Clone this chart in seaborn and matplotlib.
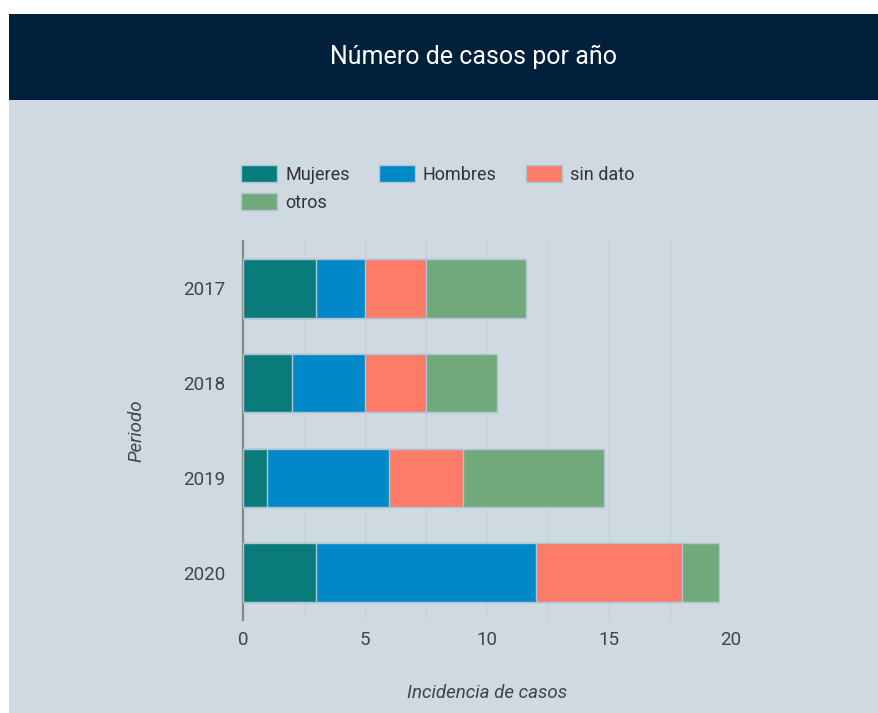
import numpy as np
import pandas as pd
import matplotlib.pyplot as plt
import seaborn as sns
from matplotlib.patches import Patch, Rectangle
from matplotlib.ticker import MultipleLocator

years = ['2017', '2018', '2019', '2020']
mujeres = [3, 2, 1, 3]
hombres = [2, 3, 5, 9]
sin_dato = [2.5, 2.5, 3, 6]
otros = [4.1, 2.9, 5.8, 1.5]

series = ['Mujeres', 'Hombres', 'sin dato', 'otros']
colors = ['#0a7b7b', '#0088c8', '#fc7b69', '#72aa7c']

df = pd.DataFrame({'year': years, 'Mujeres': mujeres, 'Hombres': hombres,
                   'sin dato': sin_dato, 'otros': otros})
# cumulative sums so the bars can be layered on top of each other
cum = df[series].cumsum(axis=1)
cum['year'] = df['year']

sns.set_theme(style='white')
plt.rcParams['font.family'] = ['Roboto', 'DejaVu Sans']

bg = '#cfd9e1'
fig = plt.figure(figsize=(8.79, 7.13), dpi=100)
fig.patch.set_facecolor('white')
fig.patches.append(Rectangle((9 / 879, 0), 1, 1 - 100 / 713, transform=fig.transFigure,
                             facecolor=bg, edgecolor='none', zorder=-10))
fig.patches.append(Rectangle((9 / 879, 1 - 100 / 713), 1, 86 / 713, transform=fig.transFigure,
                             facecolor='#00203c', edgecolor='none', zorder=-10))
fig.text(474 / 879, 1 - 57 / 713, 'Número de casos por año', color='white',
         fontsize=18, ha='center', va='center')

ax = fig.add_axes([243 / 879, 93 / 713, 488 / 879, 379 / 713])
ax.set_facecolor(bg)

# draw longest (total) first, then shorter cumulative bars on top
for s, c in reversed(list(zip(series, colors))):
    sns.barplot(data=cum, x=s, y='year', order=years, color=c, orient='h',
                width=0.62, saturation=1, edgecolor='#aec6d3', linewidth=1,
                ax=ax, zorder=3)

ax.set_xlim(0, 20)
ax.set_ylim(3.5, -0.5)
ax.xaxis.set_major_locator(MultipleLocator(5))
ax.xaxis.set_minor_locator(MultipleLocator(2.5))
ax.grid(axis='x', which='both', color='#c6d0d8', linewidth=1, zorder=0)
ax.set_axisbelow(True)
for side in ['top', 'right', 'bottom']:
    ax.spines[side].set_visible(False)
ax.spines['left'].set_color('#888888')
ax.spines['left'].set_linewidth(1.6)
ax.tick_params(axis='both', which='both', length=0, labelsize=13.5, labelcolor='#444444')
ax.tick_params(axis='y', pad=13)
ax.tick_params(axis='x', pad=8)

ax.set_xlabel('Incidencia de casos', fontsize=13.5, fontstyle='italic', color='#444444')
ax.set_ylabel('Periodo', fontsize=13.5, fontstyle='italic', color='#444444')
ax.xaxis.set_label_coords(0.5, -0.168)
ax.yaxis.set_label_coords(-0.199, 0.5)

handles = [Patch(facecolor=c, edgecolor='#aec6d3', label=s) for s, c in zip(series, colors)]
order = [0, 3, 1, 2]
leg = fig.legend([handles[i] for i in order], [series[i] for i in order],
                 loc='upper left', bbox_to_anchor=(241 / 879, 1 - 165 / 713), ncol=3,
                 frameon=False, fontsize=13, handlelength=2.0, handleheight=1.05,
                 handletextpad=0.45, columnspacing=1.6, labelspacing=0.55,
                 borderpad=0, borderaxespad=0)
for t in leg.get_texts():
    t.set_color('#333333')

plt.savefig('out.png', dpi=100, facecolor=fig.get_facecolor())
